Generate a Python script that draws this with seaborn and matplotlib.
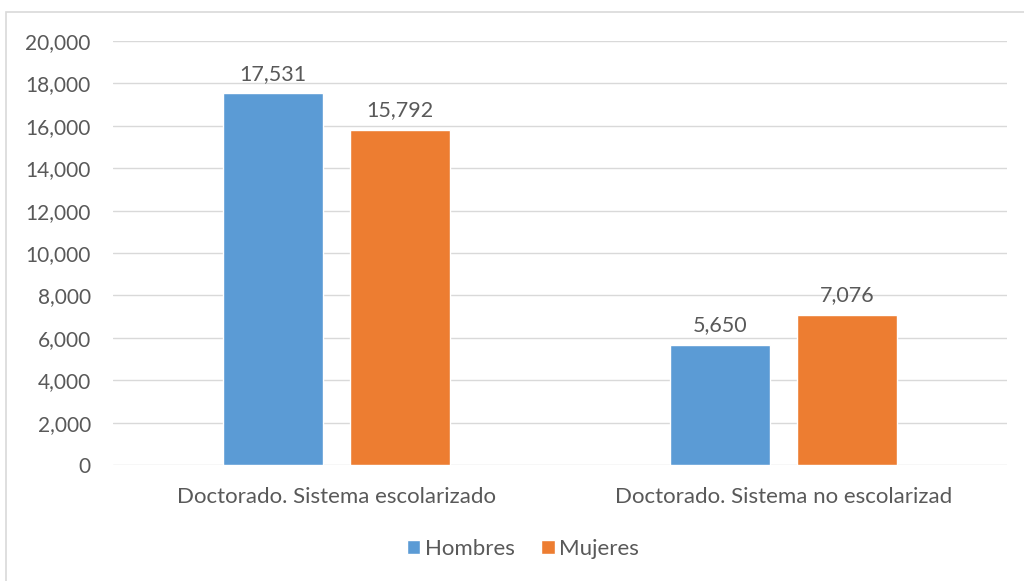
import matplotlib
matplotlib.use("Agg")
import matplotlib.pyplot as plt
import seaborn as sns
import pandas as pd
from matplotlib.patches import Rectangle
from matplotlib.ticker import FuncFormatter

categories = ["Doctorado. Sistema escolarizado", "Doctorado. Sistema no escolarizad"]
hombres = [17531, 5650]
mujeres = [15792, 7076]
series = ["Hombres", "Mujeres"]
colors = ["#5B9BD5", "#ED7D31"]

df = pd.DataFrame({
    "cat": categories * 2,
    "serie": [series[0]] * 2 + [series[1]] * 2,
    "val": hombres + mujeres,
})

sns.set_theme(style="white")
plt.rcParams["font.family"] = ["Lato", "DejaVu Sans"]
txt = "#595959"

fig = plt.figure(figsize=(10.24, 5.81), dpi=100)
ax = fig.add_axes([113/1024, 1 - 465/581, 894/1024, (465-41)/581])

sns.barplot(data=df, x="cat", y="val", hue="serie", palette=colors,
            width=0.568, gap=0.212, ax=ax, saturation=1, legend=True)

ax.set_ylim(0, 20000)
ax.set_xlim(-0.5, 1.5)
ax.set_yticks(range(0, 20001, 2000))
ax.yaxis.set_major_formatter(FuncFormatter(lambda v, p: f"{int(v):,}"))
ax.grid(axis="y", color="#D9D9D9", linewidth=1)
ax.set_axisbelow(True)
for s in ax.spines.values():
    s.set_visible(False)
ax.tick_params(axis="y", length=0, pad=16, labelsize=15, labelcolor=txt)
ax.tick_params(axis="x", length=0, pad=16, labelsize=16, labelcolor=txt)
ax.set_xlabel("")
ax.set_ylabel("")

for cont in ax.containers:
    ax.bar_label(cont, labels=[f"{int(v):,}" for v in cont.datavalues],
                 padding=7, fontsize=15.5, color=txt)

handles, labels = ax.get_legend_handles_labels()
ax.get_legend().remove()
fig.legend(handles, labels, loc="center", bbox_to_anchor=(523/1024, 1 - 549/581),
           ncol=2, frameon=False, fontsize=16, labelcolor=txt,
           handlelength=0.6, handleheight=0.6, handletextpad=0.2, columnspacing=1.2)

fig.patches.append(Rectangle((6/1024, -0.1), 1.2, 1 - 12/581 + 0.1,
                             transform=fig.transFigure, fill=False,
                             edgecolor="#D9D9D9", linewidth=1.2))

fig.savefig("out.png", dpi=100)
